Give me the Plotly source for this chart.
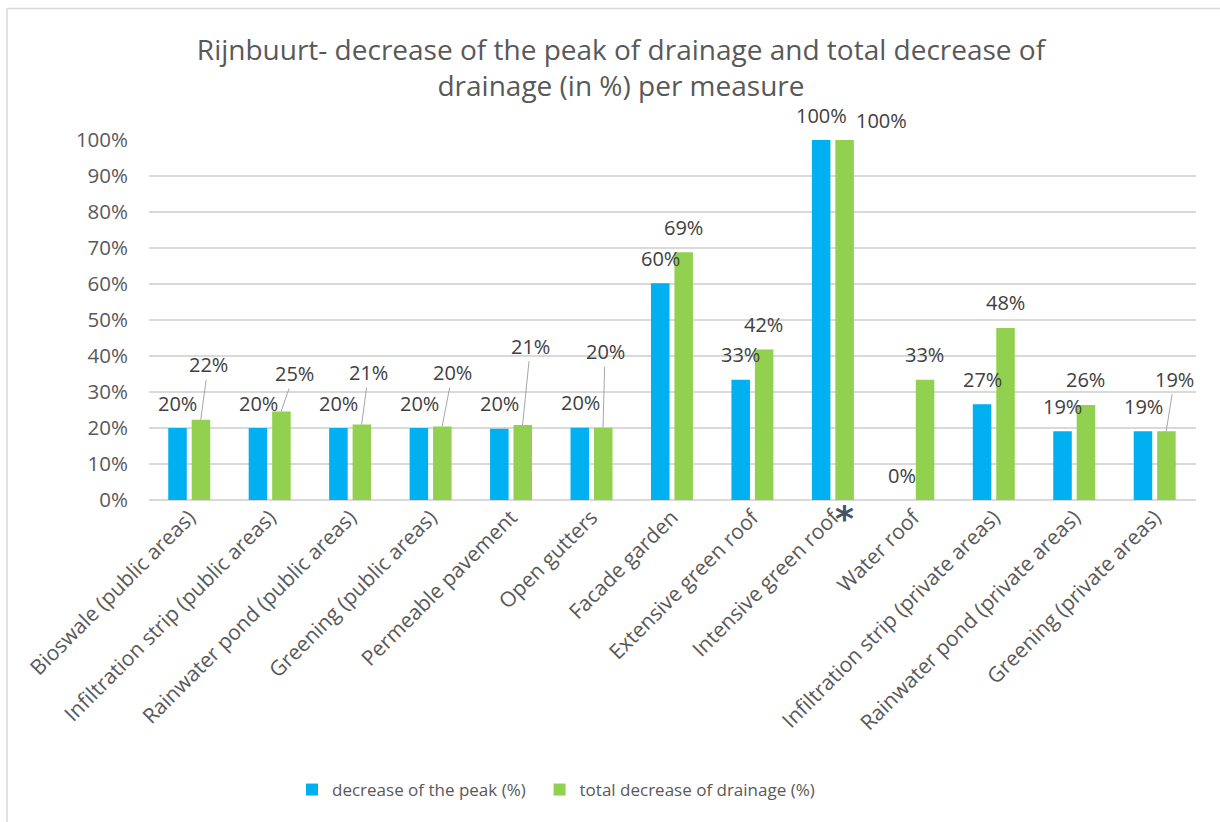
import plotly.graph_objects as go

# Measures evaluated for Rijnbuurt
measures = [
    "Bioswale (public areas)",
    "Infiltration strip (public areas)",
    "Rainwater pond (public areas)",
    "Greening (public areas)",
    "Permeable pavement",
    "Open gutters",
    "Facade garden",
    "Extensive green roof",
    "Intensive green roof",
    "Water roof",
    "Infiltration strip (private areas)",
    "Rainwater pond (private areas)",
    "Greening (private areas)",
]

# Decrease of the peak of drainage (%)
peak_decrease = [20, 20, 20, 20, 19.8, 20.1, 60.2, 33.4, 100, 0, 26.6, 19.1, 19.1]
# Total decrease of drainage (%)
total_decrease = [22.3, 24.6, 21.0, 20.4, 20.8, 20.1, 68.8, 41.8, 100, 33.4, 47.8, 26.4, 19.1]

series_names = ["decrease of the peak (%)", "total decrease of drainage (%)"]
y_ticks = [0, 10, 20, 30, 40, 50, 60, 70, 80, 90, 100]
y_tick_labels = [f"{v}%" for v in y_ticks]

BLUE = "#00B0F0"
GREEN = "#92D050"
TEXT = "#595959"
LABEL = "#404040"
GRID = "#D9D9D9"
FONT = "Open Sans"

W, H = 1220, 822
ML, MR, MT, MB = 149, 24, 140, 322
PW, PH = W - ML - MR, H - MT - MB

# pixel offset of each bar centre from its category centre
BAR_SHIFT = 11.5
LABEL_SIZE = 20
NBSP = "\u00a0"

fig = go.Figure()
fig.add_trace(go.Bar(x=measures, y=peak_decrease, name=series_names[0] + NBSP * 2,
                     marker=dict(color=BLUE, line=dict(width=0))))
fig.add_trace(go.Bar(x=measures, y=total_decrease, name=series_names[1],
                     marker=dict(color=GREEN, line=dict(width=0))))

# Data labels; some green labels are moved up and tied to their bar by a leader line
leader_offsets = {0: (7.5, -55), 1: (13, -38), 2: (7, -52), 3: (10.5, -54),
                  4: (8, -79), 5: (2, -76), 12: (8.3, -52)}
plain_offsets_green = {8: (37, -20)}

annotations = []
for i, cat in enumerate(measures):
    v = peak_decrease[i]
    annotations.append(dict(
        x=cat, y=v, xref="x", yref="y", text=f"{v:.0f}%", showarrow=False,
        xshift=-BAR_SHIFT, yshift=25, yanchor="middle", xanchor="center",
        font=dict(family=FONT, size=LABEL_SIZE, color=LABEL)))
    v = total_decrease[i]
    if i in leader_offsets:
        ax, ay = leader_offsets[i]
        annotations.append(dict(
            x=cat, y=v, xref="x", yref="y", text=f"{v:.0f}%", showarrow=True,
            arrowhead=0, arrowwidth=1, arrowcolor="#A6A6A6", ax=ax, ay=ay,
            standoff=0, startstandoff=0, xshift=BAR_SHIFT,
            font=dict(family=FONT, size=LABEL_SIZE, color=LABEL)))
    else:
        dx, dy = plain_offsets_green.get(i, (0, -25))
        annotations.append(dict(
            x=cat, y=v, xref="x", yref="y", text=f"{v:.0f}%", showarrow=False,
            xshift=BAR_SHIFT + dx, yshift=-dy, yanchor="middle", xanchor="center",
            font=dict(family=FONT, size=LABEL_SIZE, color=LABEL)))

# Asterisk under the intensive green roof
annotations.append(dict(
    x="Intensive green roof", y=0, xref="x", yref="y", text="<b>*</b>",
    showarrow=False, xshift=BAR_SHIFT, yshift=-18, yanchor="middle",
    font=dict(family="DejaVu Sans", size=36, color="#44546A")))


def px_to_paper_x(px):
    return (px - ML) / PW


def px_to_paper_y(py):
    return (H - MB - py) / PH


# Chart-area border (left and top edges)
shapes = [
    dict(type="line", xref="paper", yref="paper",
         x0=px_to_paper_x(7), x1=px_to_paper_x(W + 20),
         y0=px_to_paper_y(8.5), y1=px_to_paper_y(8.5),
         line=dict(color=GRID, width=1.5)),
    dict(type="line", xref="paper", yref="paper",
         x0=px_to_paper_x(7), x1=px_to_paper_x(7),
         y0=px_to_paper_y(8.5), y1=px_to_paper_y(H + 20),
         line=dict(color=GRID, width=1.5)),
]

fig.update_layout(
    width=W, height=H,
    margin=dict(l=ML, r=MR, t=MT, b=MB, autoexpand=False),
    paper_bgcolor="white", plot_bgcolor="white",
    barmode="group", bargap=0.417, bargroupgap=0.21,
    title=dict(
        text="Rijnbuurt- decrease of the peak of drainage and total decrease of<br>drainage (in %) per measure",
        x=621 / W, xref="container", xanchor="center",
        y=1 - 60 / H, yref="container", yanchor="top",
        font=dict(family=FONT, size=28, color=TEXT)),
    font=dict(family=FONT, color=TEXT),
    xaxis=dict(
        type="category", tickangle=-45, showgrid=False, showline=False,
        ticks="", tickfont=dict(family=FONT, size=21, color=TEXT)),
    yaxis=dict(
        range=[0, 100], tickmode="array", tickvals=y_ticks, ticktext=y_tick_labels,
        showgrid=True, gridcolor=GRID, gridwidth=1.5,
        zeroline=True, zerolinecolor=GRID, zerolinewidth=1.5,
        showline=False, ticks="", ticklabelstandoff=20,
        tickfont=dict(family=FONT, size=20.5, color=TEXT)),
    legend=dict(
        orientation="h", x=px_to_paper_x(292), xanchor="left",
        y=px_to_paper_y(790), yanchor="middle",
        font=dict(family=FONT, size=17, color=TEXT)),
    showlegend=True,
    annotations=annotations,
    shapes=shapes,
)

fig.write_html("out.html")
